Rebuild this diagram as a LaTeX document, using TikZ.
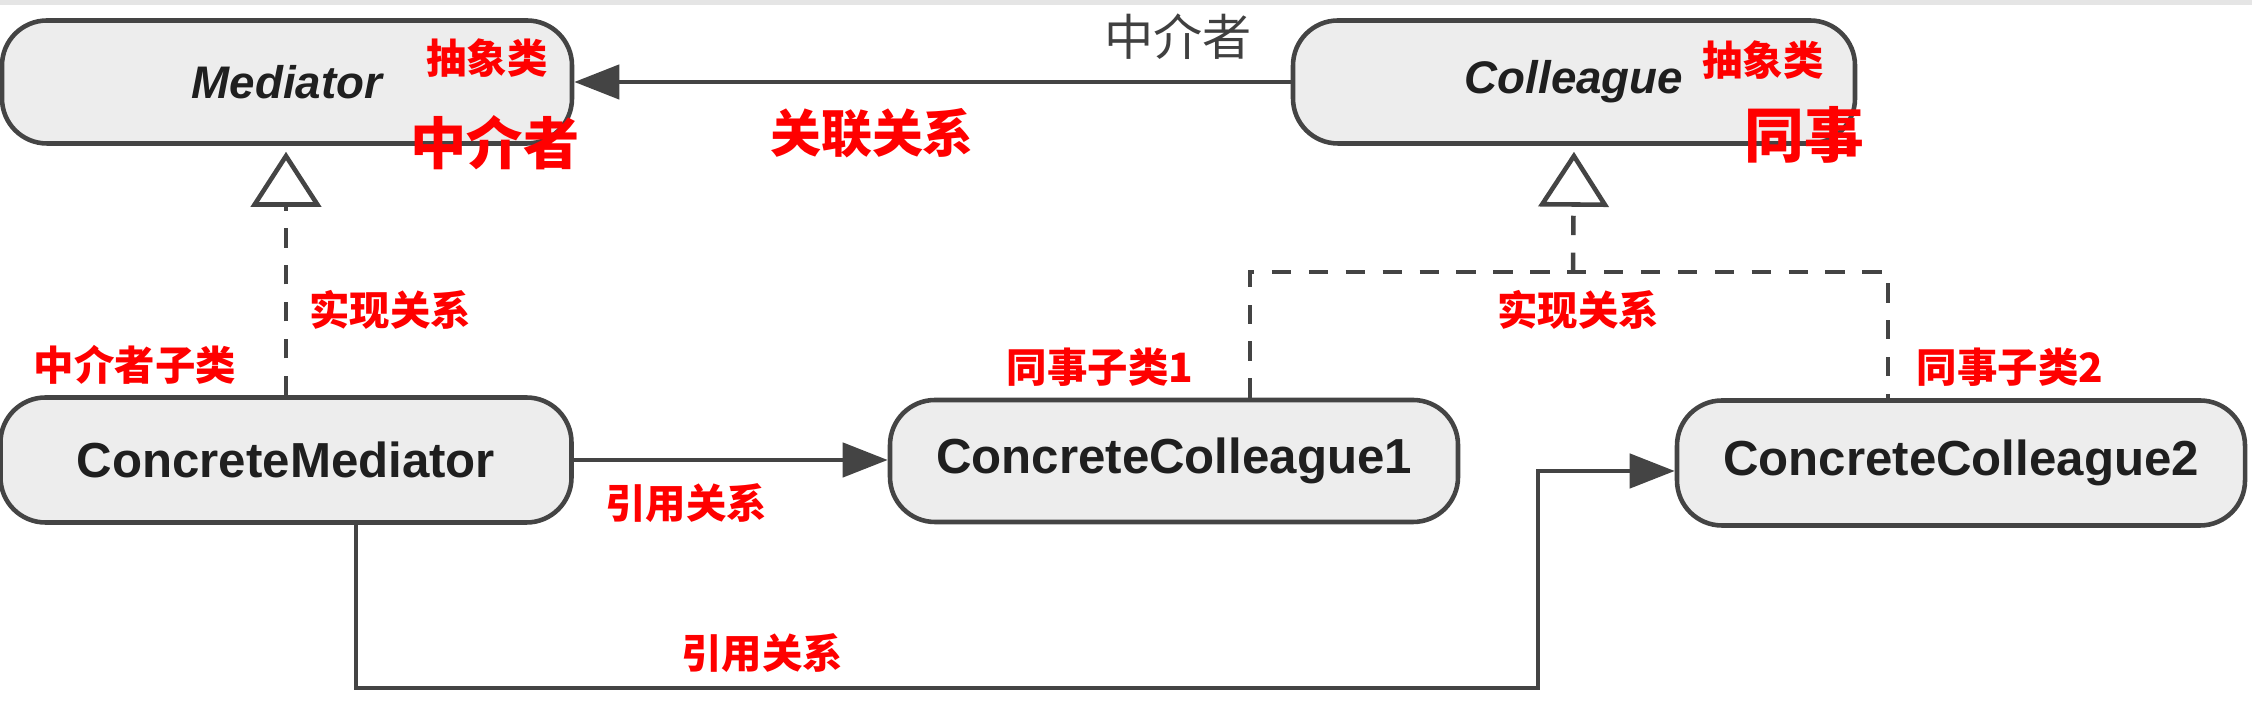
\documentclass[tikz,border=0pt]{standalone}
\usepackage{fontspec}
\setmainfont{Liberation Sans}
\newfontfamily\cjk{Noto Sans CJK SC}
\usetikzlibrary{arrows.meta, calc}
\definecolor{ink}{HTML}{444444}
\definecolor{boxfill}{HTML}{EDEDED}
\definecolor{mark}{HTML}{FF0000}
\tikzset{
  cls/.style     = {draw=ink, line width=1.3pt, fill=boxfill, rounded corners=0.45cm,
                    minimum width=5.68cm, minimum height=1.23cm, text=black!88,
                    font=\fontsize{14}{16}\selectfont\bfseries},
  abscls/.style  = {cls, font=\fontsize{13}{15}\selectfont\bfseries\itshape},
  redlbl/.style  = {text=mark, inner sep=0pt, font=\cjk\bfseries\fontsize{11.5}{13}\selectfont},
  assoc/.style   = {draw=ink, line width=1.3pt, -{Triangle[length=4.5mm, width=3.4mm]}},
  refer/.style   = {assoc},
  dashline/.style = {draw=ink, line width=1.3pt, dash pattern=on 5.5pt off 5pt},
  realize/.style = {dashline, -{Triangle[open, length=5.5mm, width=7mm, fill=white]}, shorten >=0.6mm},
}

\begin{document}
\begin{tikzpicture}
  \useasboundingbox (0,0) rectangle (22.52,7.08);
  \fill[black!10] (0,7.03) rectangle (22.52,7.08);

  % abstract classes
  \node[abscls, minimum width=5.70cm] (med) at (2.87,6.26) {Mediator};
  \node[abscls, minimum width=5.62cm] (col) at (15.74,6.26) {Colleague};
  % concrete classes
  \node[cls, minimum width=5.71cm, minimum height=1.25cm] (cmed) at (2.86,2.48) {ConcreteMediator};
  \node[cls, minimum height=1.22cm] (cc1) at (11.74,2.47) {ConcreteColleague1};
  \node[cls, minimum height=1.25cm] (cc2) at (19.61,2.45) {ConcreteColleague2};

  % association
  \draw[assoc] (col.west) -- (med.east);
  \node[text=black!75, inner sep=0pt, font=\cjk\fontsize{14}{16}\selectfont] (rolename) at (11.78,6.71) {中介者};

  % realization
  \draw[realize] (cmed.north) -- (cmed.north |- med.south);
  \coordinate (join) at (15.73,4.36);
  \draw[dashline] ([xshift=7.6mm]cc1.north) |- (join) -| ([xshift=-7.3mm]cc2.north);
  \draw[realize] (join) -- (col.south);

  % references
  \draw[refer] (cmed.east) -- (cmed.east -| cc1.west);
  \coordinate (low) at (15.38,0.20);
  \draw[refer] ([xshift=7mm]cmed.south) |- (low) |- ([yshift=-0.8mm]cc2.west);

  % notes
  \node[redlbl] (abs1) at (4.87,6.50) {抽象类};
  \node[redlbl, font=\cjk\bfseries\fontsize{16}{18}\selectfont] (medname) at (4.95,5.65) {中介者};
  \node[redlbl] (abs2) at (17.63,6.48) {抽象类};
  \node[redlbl, font=\cjk\bfseries\fontsize{17}{19}\selectfont] (colname) at (18.04,5.73) {同事};
  \node[redlbl, font=\cjk\bfseries\fontsize{14.5}{16}\selectfont] (assoclbl) at (8.72,5.75) {关联关系};
  \node[redlbl] (real1) at (3.90,3.98) {实现关系};
  \node[redlbl] (real2) at (15.78,3.98) {实现关系};
  \node[redlbl] (sub0) at (1.35,3.43) {中介者子类};
  \node[redlbl] (sub1) at (11.00,3.41) {同事子类1};
  \node[redlbl] (sub2) at (20.10,3.41) {同事子类2};
  \node[redlbl] (ref1) at (6.86,2.05) {引用关系};
  \node[redlbl] (ref2) at (7.62,0.55) {引用关系};
\end{tikzpicture}
\end{document}
